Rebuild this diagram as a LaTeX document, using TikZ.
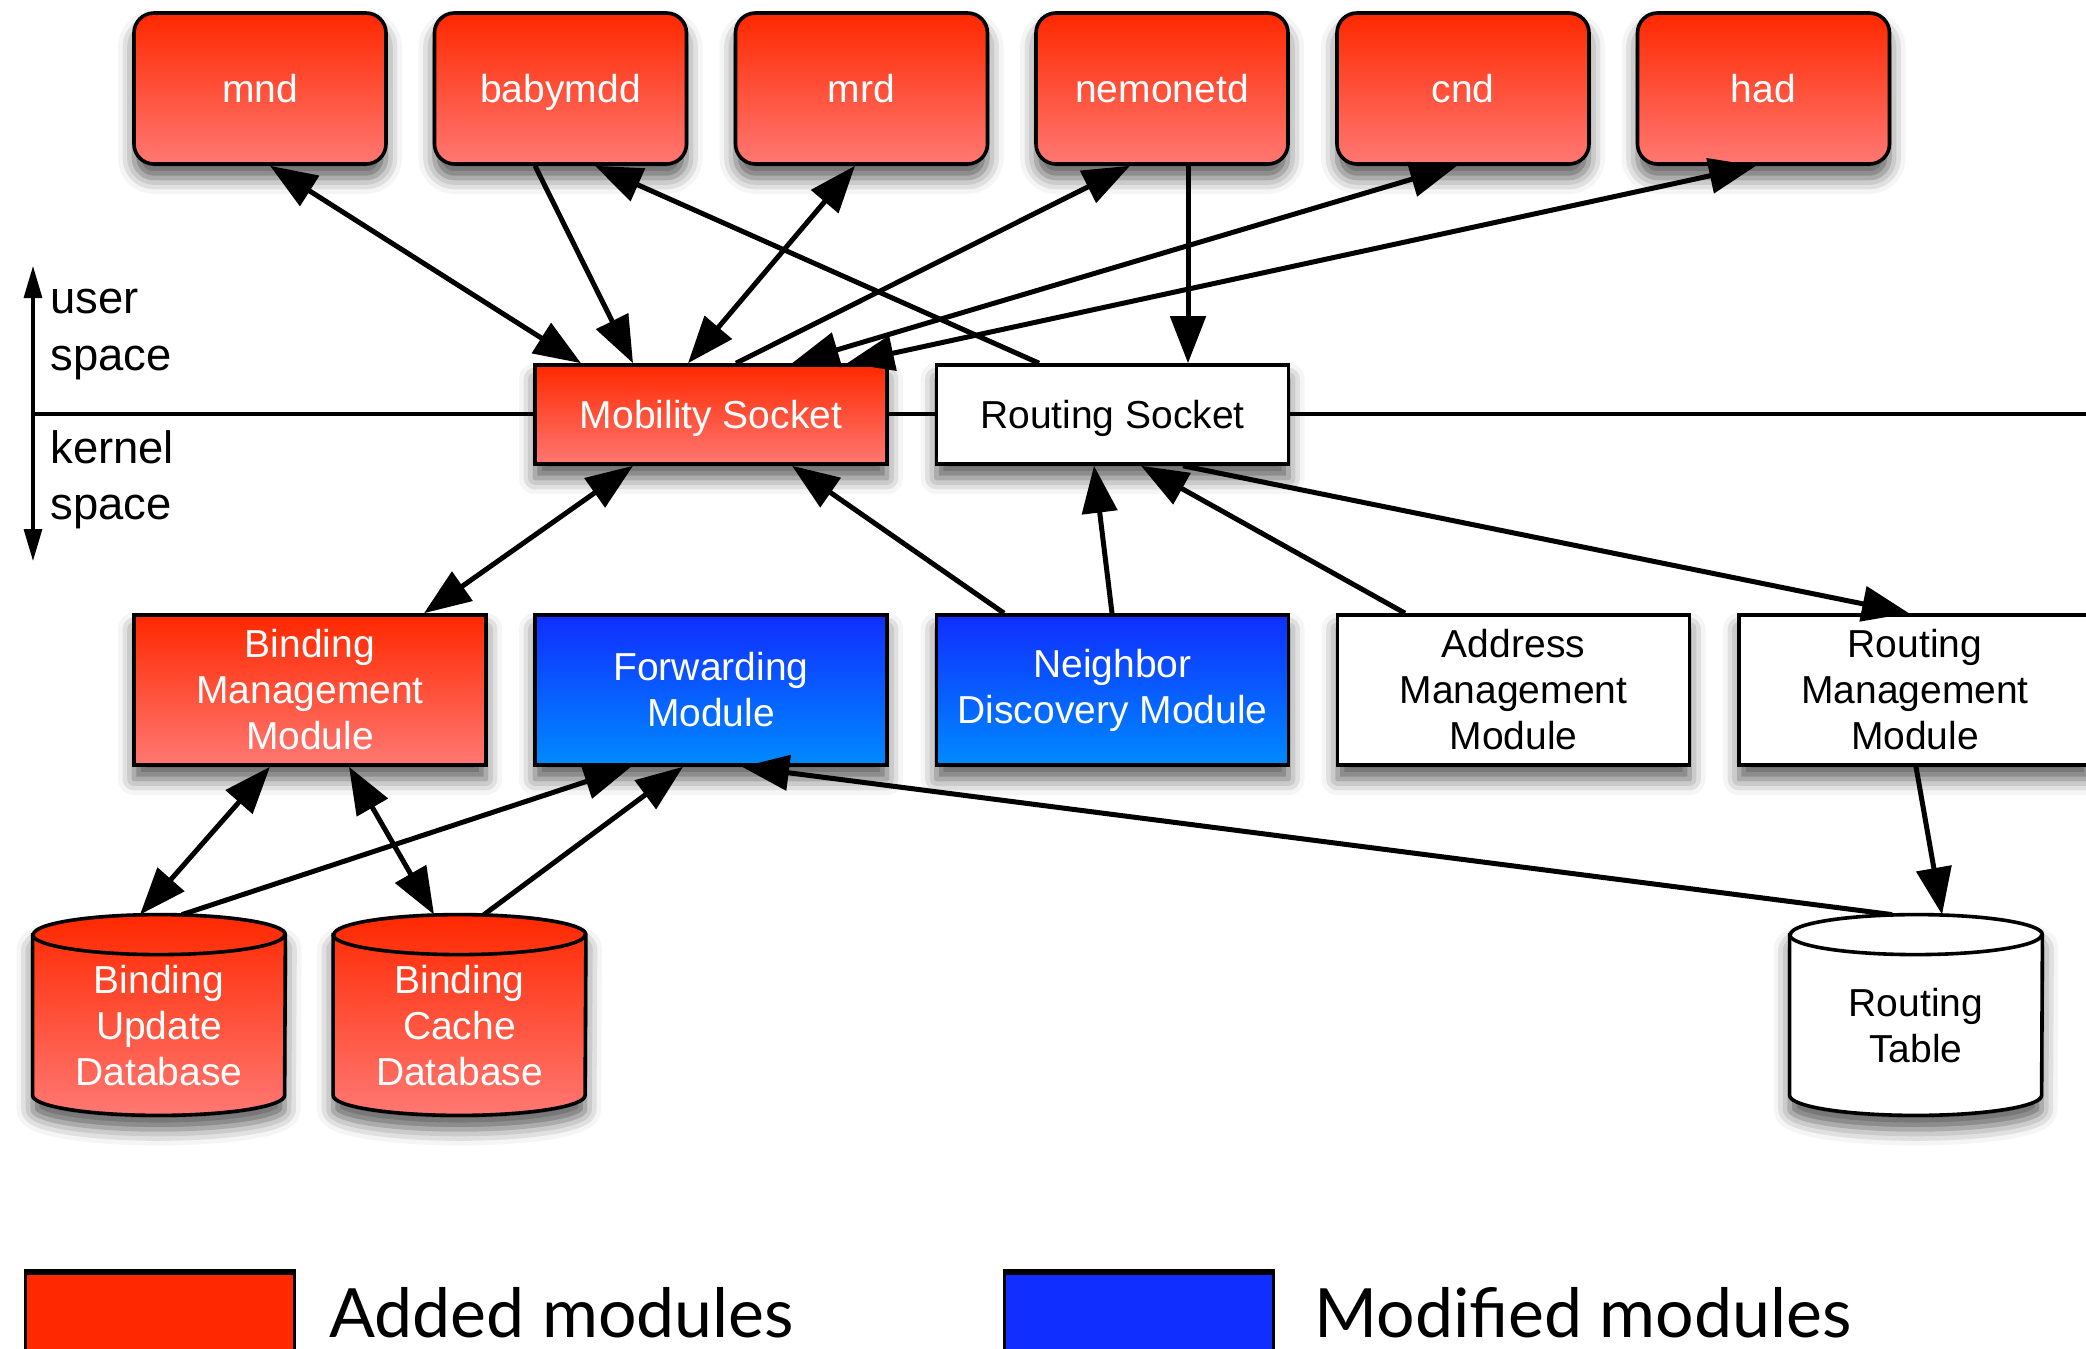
\documentclass[tikz,border=0pt]{standalone}
\usepackage{fontspec}
\setmainfont{Liberation Sans}
\newfontfamily\legfont{Lato}
\usetikzlibrary{arrows.meta,calc,shadows.blur}
\definecolor{rtop}{RGB}{255,40,0}
\definecolor{rbot}{RGB}{255,120,114}
\definecolor{btop}{RGB}{16,46,255}
\definecolor{bbot}{RGB}{0,138,255}
\tikzset{
  shad/.style={blur shadow={shadow xshift=0pt,shadow yshift=-7pt,shadow blur radius=8pt,shadow opacity=65}},
  box/.style={draw=black, line width=1.8pt, inner sep=0pt, align=center,
    font=\fontsize{19.5}{23}\selectfont, shad},
  redbox/.style={box, top color=rtop, bottom color=rbot, text=white},
  bluebox/.style={box, top color=btop, bottom color=bbot, text=white},
  whitebox/.style={box, fill=white, text=black},
  oneline/.style={text height=14pt, text depth=0pt},
  app/.style={redbox, oneline, rounded corners=10pt, minimum width=126pt, minimum height=75.5pt},
  sock/.style={oneline, minimum width=176pt, minimum height=49.5pt},
  modbox/.style={minimum width=176pt, minimum height=75pt},
  cylframe/.style={minimum width=126pt, minimum height=100pt, inner sep=0pt},
  cyltext/.style={align=center, inner sep=0pt, font=\fontsize{19.5}{23}\selectfont},
  side/.style={anchor=base west, inner sep=0pt, font=\fontsize{22.7}{28}\selectfont},
  conn/.style={draw=black, fill opacity=1, draw opacity=1, line width=2.5pt,
    -{Triangle[length=23.5pt,width=17.5pt,fill=black]}},
  biconn/.style={draw=black, fill opacity=1, draw opacity=1, line width=2.5pt,
    {Triangle[length=23.5pt,width=17.5pt,fill=black]}-{Triangle[length=23.5pt,width=17.5pt,fill=black]}},
  legbox/.style={draw=black, line width=1.5pt, minimum width=134.5pt, minimum height=60pt, anchor=north west},
  legtext/.style={anchor=base west, inner sep=0pt, font=\legfont\fontsize{34}{40}\selectfont},
}
\newcommand\dbcyl[2]{%
  \draw[line width=1.8pt, #2, shad]
    ($(#1.north west)+(0,-20)$) -- ($(#1.south west)+(0,20)$)
    arc[start angle=180,end angle=360,x radius=126,y radius=20]
    -- ($(#1.north east)+(0,-20)$)
    arc[start angle=0,end angle=180,x radius=126,y radius=20] -- cycle;
  \draw[line width=1.8pt] ($(#1.north west)+(0,-20)$)
    arc[start angle=180,end angle=360,x radius=126,y radius=20];
}
\begin{document}
\begin{tikzpicture}[x=0.5pt,y=0.5pt]
\useasboundingbox (0,0) rectangle (2086,-1348);

% user / kernel divider
\coordinate (ktop) at (33,-266);
\coordinate (kbot) at (33,-561);
\coordinate (divl) at (33,-414);
\coordinate (divr) at (2100,-414);
\draw[line width=1.6pt] (divl) -- (divr);
\draw[line width=1.6pt, {Triangle[length=16pt,width=9pt]}-{Triangle[length=16pt,width=9pt]}] (ktop) -- (kbot);
\node[side] (u1) at (50,-313) {user};
\node[side] (u2) at (50,-370) {space};
\node[side] (k1) at (50,-463) {kernel};
\node[side] (k2) at (50,-519) {space};

% user space daemons
\node[app] (mnd) at (260,-88.5) {mnd};
\node[app] (baby) at (560.5,-88.5) {babymdd};
\node[app] (mrd) at (861.5,-88.5) {mrd};
\node[app] (nemo) at (1162,-88.5) {nemonetd};
\node[app] (cnd) at (1463,-88.5) {cnd};
\node[app] (had) at (1763.5,-88.5) {had};

% sockets
\node[redbox, sock] (ms) at (711,-414.5) {Mobility Socket};
\node[whitebox, sock] (rs) at (1112.5,-414.5) {Routing Socket};

% kernel modules
\node[redbox, modbox] (bmm) at (310,-690) {Binding\\Management\\Module};
\node[bluebox, modbox] (fwd) at (711,-690) {Forwarding\\Module};
\node[bluebox, modbox] (nd) at (1112.5,-690) {Neighbor\\Discovery Module};
\node[whitebox, modbox] (amm) at (1513.5,-690) {Address\\Management\\Module};
\node[whitebox, modbox] (rmm) at (1915,-690) {Routing\\Management\\Module};

% databases
\node[cylframe] (bud) at (159,-1015) {};
\node[cylframe] (bcd) at (459.5,-1015) {};
\node[cylframe] (rt) at (1916,-1015) {};
\dbcyl{bud}{top color=rtop, bottom color=rbot}
\dbcyl{bcd}{top color=rtop, bottom color=rbot}
\dbcyl{rt}{fill=white}
\node[cyltext, text=white] (budt) at (159,-1026) {Binding\\Update\\Database};
\node[cyltext, text=white] (bcdt) at (459.5,-1026) {Binding\\Cache\\Database};
\node[cyltext] (rtt) at (1916,-1026) {Routing\\Table};

\begin{scope}[fill opacity=1, draw opacity=1]
% connectors: user space <-> sockets
\draw[biconn] ($(mnd.south)+(10,0)$) -- ($(ms.north)+(-130,0)$);
\draw[conn] ($(baby.south)+(-25.5,0)$) -- ($(ms.north)+(-78,0)$);
\draw[conn] ($(rs.north)+(-73.5,0)$) -- ($(baby.south)+(34.5,0)$);
\draw[biconn] ($(mrd.south)+(-6.5,0)$) -- ($(ms.north)+(-23,0)$);
\draw[conn] ($(ms.north)+(25,0)$) -- ($(nemo.south)+(-32,0)$);
\draw[conn] ($(nemo.south)+(26,0)$) -- ($(rs.north)+(75.5,0)$);
\draw[biconn] ($(cnd.south)+(-6,0)$) -- ($(ms.north)+(81,0)$);
\draw[biconn] ($(had.south)+(-7.5,0)$) -- ($(ms.north)+(136,0)$);

% sockets <-> kernel modules
\draw[biconn] ($(ms.south)+(-78,0)$) -- ($(bmm.north)+(114,0)$);
\draw[conn] ($(nd.north)+(-108.5,0)$) -- ($(ms.south)+(81,0)$);
\draw[conn] ($(nd.north)+(-0.5,0)$) -- ($(rs.south)+(-18.5,0)$);
\draw[conn] ($(amm.north)+(-108.5,0)$) -- ($(rs.south)+(28.5,0)$);
\draw[conn] ($(rs.south)+(70.5,0)$) -- ($(rmm.north)+(-6,0)$);

% modules <-> databases
\draw[biconn] ($(bmm.south)+(-40,0)$) -- ($(bud.north)+(-19,0)$);
\draw[biconn] ($(bmm.south)+(39,0)$) -- ($(bcd.north)+(-25.5,0)$);
\draw[conn] ($(bud.north)+(23,0)$) -- ($(fwd.south)+(-80,0)$);
\draw[conn] ($(bcd.north)+(24.5,0)$) -- ($(fwd.south)+(-28,0)$);
\draw[conn] ($(rt.north)+(-24,0)$) -- ($(fwd.south)+(31,0)$);
\draw[conn] ($(rmm.south)+(1,0)$) -- ($(rt.north)+(26,0)$);
\end{scope}

% legend
\node[legbox, fill=rtop] (legr) at (24,-1272) {};
\draw[line width=3pt] (legr.north west) -- (legr.north east);
\node[legtext] (legrt) at (329,-1337) {Added modules};
\node[legbox, fill=btop] (legb) at (1003,-1272) {};
\draw[line width=3pt] (legb.north west) -- (legb.north east);
\node[legtext] (legbt) at (1314,-1337) {Modified modules};
\end{tikzpicture}
\end{document}
